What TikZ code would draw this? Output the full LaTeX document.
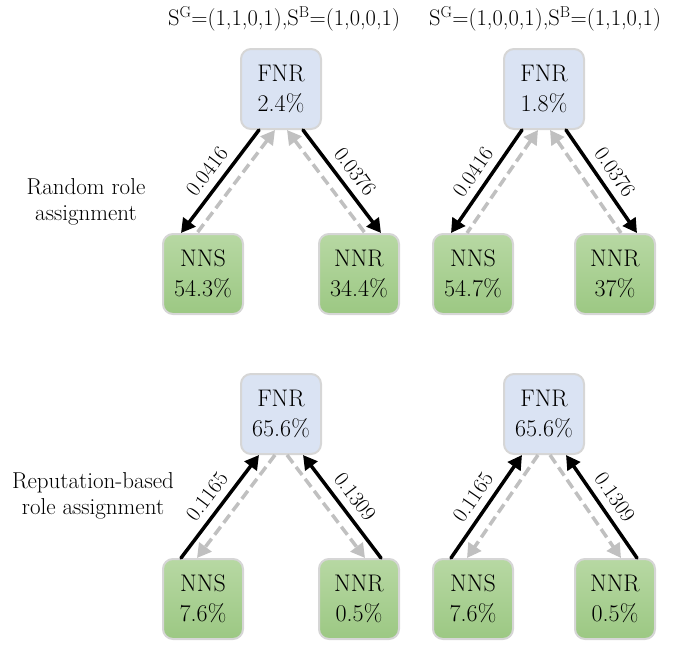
\documentclass[tikz,border=0pt]{standalone}
\usepackage{fontspec}
\usetikzlibrary{arrows.meta}
\definecolor{fnrblue}{HTML}{DAE3F3}
\definecolor{nntop}{HTML}{B7D8A3}
\definecolor{nnbottom}{HTML}{9CC883}
\definecolor{boxrim}{HTML}{D6D6D6}
\definecolor{flowgrey}{HTML}{C0C0C0}
\tikzset{
    rolebox/.style={rounded corners=10pt, draw=boxrim, line width=2pt,
        minimum width=80pt, minimum height=80pt, align=center,
        font=\fontsize{24}{30}\selectfont},
    fnrbox/.style={rolebox, fill=fnrblue},
    nnbox/.style={rolebox, top color=nntop, bottom color=nnbottom},
    flow/.style={line width=3.5pt, line cap=round},
    backflow/.style={line width=3.5pt, color=flowgrey, dash pattern=on 10pt off 5pt},
    headfwd/.style={-{Triangle[length=14pt,width=15pt]}},
    headbwd/.style={{Triangle[length=14pt,width=15pt]}-},
    rate/.style={midway, sloped, above=4pt, font=\fontsize{21.5}{24}\selectfont},
    sidetext/.style={align=center, font=\fontsize{23}{26}\selectfont},
}
\newcommand{\drawroles}[9]{%
    % draw the three role boxes
    \node[fnrbox] (#1f) at (0,0) {FNR\\#2};
    \node[nnbox] (#1s) at (-#9,-185) {NNS\\#3};
    \node[nnbox] (#1r) at (#9,-185) {NNR\\#4};
    % draw black arrows with rates
    \draw[flow,#7] ([xshift=-22pt]#1f.south) -- ([xshift=-22pt]#1s.north) node[rate]{#5};
    \draw[flow,#7] ([xshift=22pt]#1f.south) -- ([xshift=22pt]#1r.north) node[rate]{#6};
    % draw grey dashed arrows
    \draw[backflow,#8] ([xshift=-6pt]#1f.south) -- ([xshift=-6pt]#1s.north);
    \draw[backflow,#8] ([xshift=6pt]#1f.south) -- ([xshift=6pt]#1r.north);
}
\begin{document}
\begin{tikzpicture}[x=1pt, y=1pt]
\useasboundingbox (0,0) rectangle (689,-645);
% column titles
\node[sidetext, anchor=base, font=\fontsize{22.5}{26}\selectfont] (titleleft) at (284,-25) {S\textsuperscript{G}=(1,1,0,1),S\textsuperscript{B}=(1,0,0,1)};
\node[sidetext, anchor=base, font=\fontsize{22.5}{26}\selectfont] (titleright) at (545,-25) {S\textsuperscript{G}=(1,0,0,1),S\textsuperscript{B}=(1,1,0,1)};
% row labels
\node[sidetext] (rowrandom) at (86,-202) {Random role\\assignment};
\node[sidetext] (rowreput) at (93,-496) {Reputation-based\\role assignment};
\begin{scope}[shift={(281,-89)}]
    \drawroles{a}{2.4\%}{54.3\%}{34.4\%}{0.0416}{0.0376}{headfwd}{headbwd}{78}
\end{scope}
\begin{scope}[shift={(544,-89)}]
    \drawroles{b}{1.8\%}{54.7\%}{37\%}{0.0416}{0.0376}{headfwd}{headbwd}{71}
\end{scope}
\begin{scope}[shift={(281,-414)}]
    \drawroles{c}{65.6\%}{7.6\%}{0.5\%}{0.1165}{0.1309}{headbwd}{headfwd}{78}
\end{scope}
\begin{scope}[shift={(544,-414)}]
    \drawroles{d}{65.6\%}{7.6\%}{0.5\%}{0.1165}{0.1309}{headbwd}{headfwd}{71}
\end{scope}
\end{tikzpicture}
\end{document}
